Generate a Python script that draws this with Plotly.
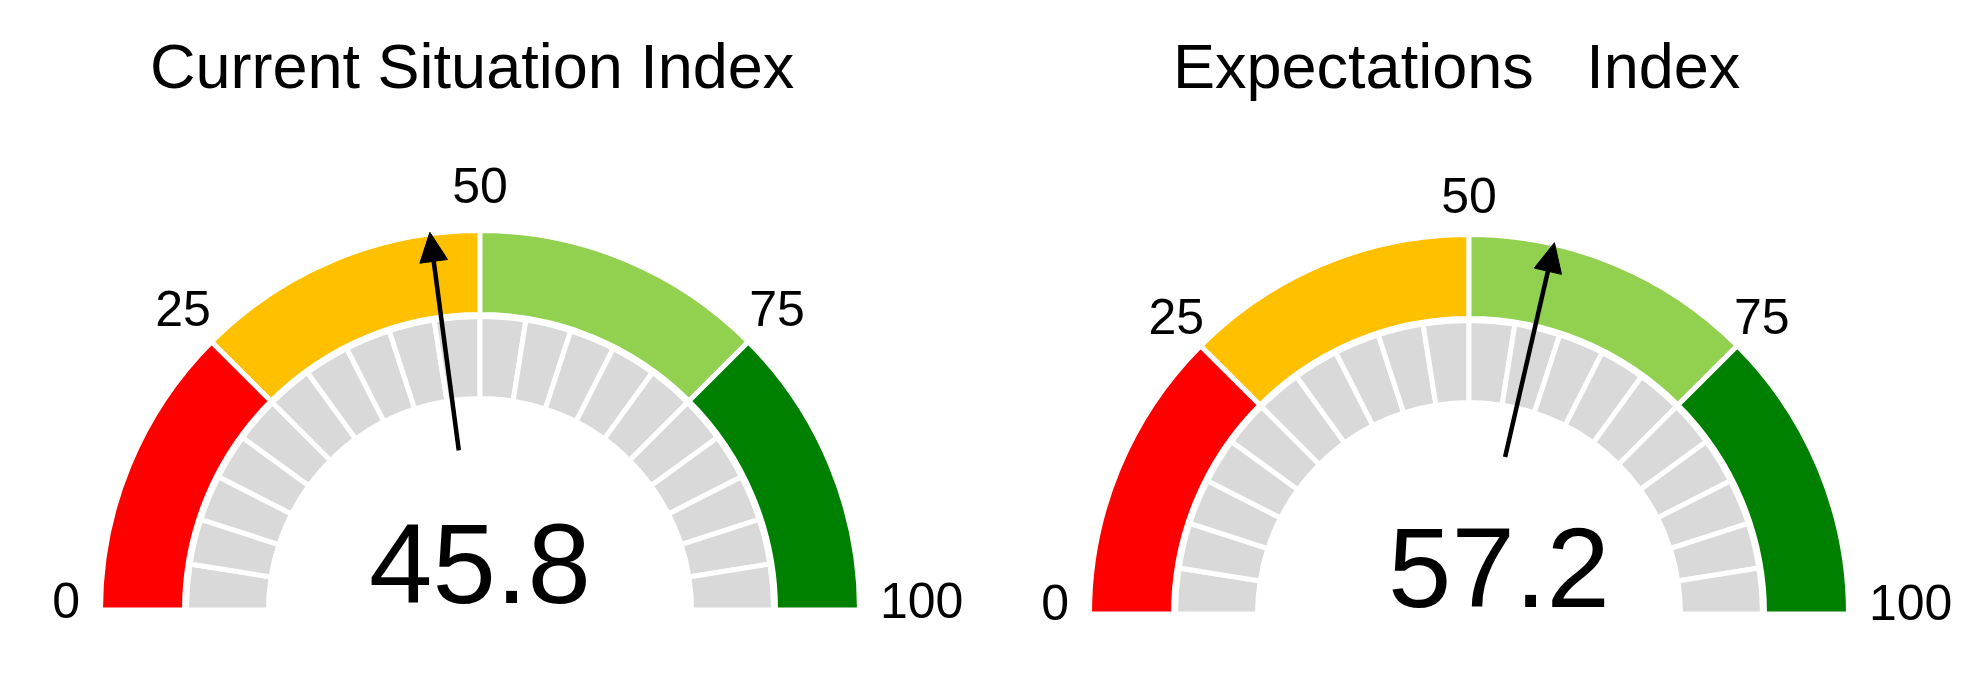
import math
import plotly.graph_objects as go

# ---------------- data ----------------
titles = ["Current Situation Index", "Expectations\u00a0\u00a0\u00a0Index"]
values = [45.8, 57.2]
scale_min, scale_max = 0, 100
band_edges = [0, 25, 50, 75, 100]
band_colors = ["#FF0000", "#FFC000", "#92D050", "#008000"]
tick_values = [0, 25, 50, 75, 100]
tick_labels = ["0", "25", "50", "75", "100"]
n_segments = 20
segment_color = "#D9D9D9"

# ---------------- geometry / style (viewport pixels) ----------------
VW, VH = 1976, 693
PAGE_MARGIN = 8            # default body margin of the html page
W, H = VW - 2 * PAGE_MARGIN, VH - 2 * PAGE_MARGIN
FONT = "Liberation Sans, Arial, sans-serif"
centers_x = [480, 1469]
baselines_y = [610, 614]
title_x = [472, 1456]
title_y = 66
RMAX = 440                 # radial axis range -> 1 unit = 1 px
R_BAND = (298, 377)        # coloured ring (visible)
R_SEG = (214, 291)         # grey segmented ring (visible)
GAP = 5                    # white separator width
R_NEEDLE = (161, 381)
HEAD_LEN, HEAD_W = 29, 28
NEEDLE_W = 4.5
R_LABEL = [420, 414]
R_END_LABEL = 400
END_LIFT = [5, 7]
R_VALUE = 36
VALUE_DX = [0, 30]


def deg(v):
    return (v - scale_min) / (scale_max - scale_min) * 180.0


def px_x(x):
    return (x - PAGE_MARGIN) / W


def px_y(y):
    return 1 - (y - PAGE_MARGIN) / H


fig = go.Figure()
layout_polars = {}

for i, (title, val) in enumerate(zip(titles, values)):
    pk = "polar" if i == 0 else f"polar{i + 1}"
    sub = pk

    # coloured bands
    thetas = [(deg(a) + deg(b)) / 2 for a, b in zip(band_edges[:-1], band_edges[1:])]
    widths = [deg(b) - deg(a) for a, b in zip(band_edges[:-1], band_edges[1:])]
    base = R_BAND[0] - GAP / 2
    fig.add_trace(go.Barpolar(
        theta=thetas, width=widths,
        r=[R_BAND[1] + GAP / 2 - base] * len(thetas), base=[base] * len(thetas),
        marker=dict(color=band_colors, line=dict(color="white", width=GAP)),
        subplot=sub, showlegend=False, hoverinfo="skip"))

    # grey segmented ring
    step = (scale_max - scale_min) / n_segments
    seg_edges = [scale_min + k * step for k in range(n_segments + 1)]
    s_th = [(deg(a) + deg(b)) / 2 for a, b in zip(seg_edges[:-1], seg_edges[1:])]
    s_w = [deg(b) - deg(a) for a, b in zip(seg_edges[:-1], seg_edges[1:])]
    sbase = R_SEG[0] - GAP / 2
    fig.add_trace(go.Barpolar(
        theta=s_th, width=s_w,
        r=[R_SEG[1] + GAP / 2 - sbase] * n_segments, base=[sbase] * n_segments,
        marker=dict(color=segment_color, line=dict(color="white", width=GAP)),
        subplot=sub, showlegend=False, hoverinfo="skip"))

    # needle
    th = deg(val)
    fig.add_trace(go.Scatterpolar(
        r=[R_NEEDLE[0], R_NEEDLE[1] - HEAD_LEN + 2], theta=[th, th], mode="lines",
        line=dict(color="black", width=NEEDLE_W), subplot=sub,
        showlegend=False, hoverinfo="skip"))
    rb = R_NEEDLE[1] - HEAD_LEN
    half = math.degrees(math.atan((HEAD_W / 2) / rb))
    fig.add_trace(go.Scatterpolar(
        r=[R_NEEDLE[1], rb, rb, R_NEEDLE[1]], theta=[th, th - half, th + half, th],
        mode="lines", fill="toself", fillcolor="black",
        line=dict(color="black", width=1), subplot=sub,
        showlegend=False, hoverinfo="skip"))

    # tick labels
    t_r, t_th, t_pos = [], [], []
    lift = math.degrees(math.asin(END_LIFT[i] / R_END_LABEL))
    for tv in tick_values:
        d = deg(tv)
        if tv == scale_min:
            t_r.append(R_END_LABEL)
            t_th.append(d + lift)
            t_pos.append("middle left")
        elif tv == scale_max:
            t_r.append(R_END_LABEL)
            t_th.append(d - lift)
            t_pos.append("middle right")
        else:
            t_r.append(R_LABEL[i])
            t_th.append(d)
            t_pos.append("middle center")
    fig.add_trace(go.Scatterpolar(
        r=t_r, theta=t_th, mode="text", text=tick_labels, textposition=t_pos,
        textfont=dict(family=FONT, size=50, color="black"), cliponaxis=False,
        subplot=sub, showlegend=False, hoverinfo="skip"))

    # value
    v_r = math.hypot(VALUE_DX[i], R_VALUE)
    v_th = 90 + math.degrees(math.atan2(VALUE_DX[i], R_VALUE))
    fig.add_trace(go.Scatterpolar(
        r=[v_r], theta=[v_th], mode="text", text=[f"{val:.1f}"],
        textposition="middle center",
        textfont=dict(family=FONT, size=114, color="black"), cliponaxis=False,
        subplot=sub, showlegend=False, hoverinfo="skip"))

    cx, by = centers_x[i], baselines_y[i]
    layout_polars[pk] = dict(
        domain=dict(x=[px_x(cx - RMAX), px_x(cx + RMAX)],
                    y=[px_y(by), px_y(by - RMAX)]),
        sector=[0, 180], bgcolor="rgba(0,0,0,0)", barmode="overlay", bargap=0,
        radialaxis=dict(range=[0, RMAX], visible=False),
        angularaxis=dict(visible=False, rotation=180, direction="clockwise",
                         thetaunit="degrees"),
    )

annotations = [
    dict(text=t, x=px_x(title_x[i]), y=px_y(title_y), xref="paper", yref="paper",
         xanchor="center", yanchor="middle", showarrow=False,
         font=dict(family=FONT, size=63, color="black"))
    for i, t in enumerate(titles)
]

fig.update_layout(
    width=W, height=H, margin=dict(l=0, r=0, t=0, b=0),
    paper_bgcolor="white", plot_bgcolor="white",
    annotations=annotations, showlegend=False,
    **layout_polars,
)

fig.write_html("out.html")
